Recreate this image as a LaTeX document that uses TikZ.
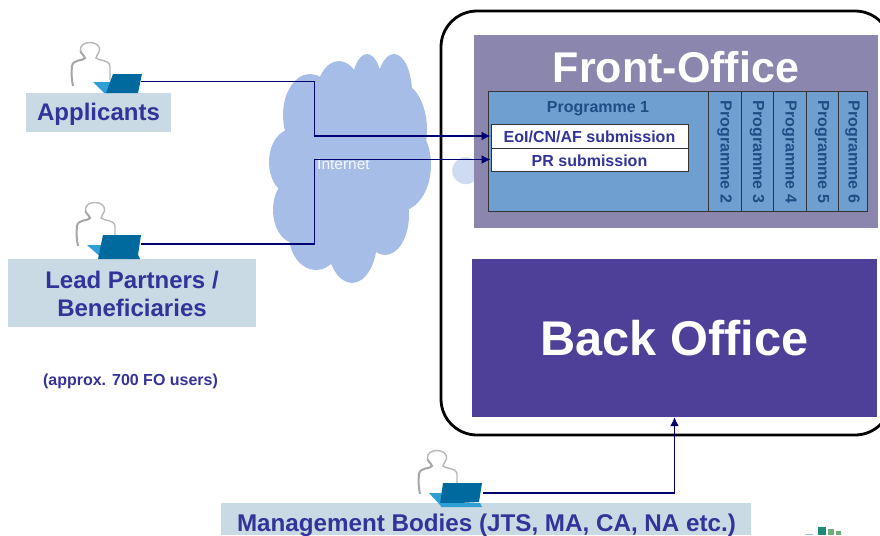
\documentclass[tikz,border=0pt]{standalone}
\usepackage{fontspec}
\setmainfont{Liberation Sans}
\usetikzlibrary{arrows.meta}
\definecolor{lbl}{HTML}{CADAE4}
\definecolor{txt}{HTML}{333399}
\definecolor{prog}{HTML}{1F4E86}
\definecolor{fo}{HTML}{8A86AE}
\definecolor{bo}{HTML}{4E3F98}
\definecolor{pfill}{HTML}{6E9FD0}
\definecolor{cloudc}{HTML}{A6BDE8}
\definecolor{navyl}{HTML}{000070}
\definecolor{lapd}{HTML}{006A9E}
\definecolor{lapl}{HTML}{2F9FD6}
\definecolor{logoa}{HTML}{1F8A78}
\definecolor{logob}{HTML}{6FAE78}
\definecolor{logoc}{HTML}{8FC6D8}
\tikzset{
  lblbox/.style={fill=lbl,inner sep=0pt},
  lbltxt/.style={inner sep=0pt,text=txt,font=\fontsize{24}{28}\selectfont\bfseries,align=center},
  progbox/.style={draw=black!80,line width=1pt,fill=pfill,inner sep=0pt},
  progtxt/.style={text=prog,font=\fontsize{16}{20}\selectfont\bfseries,inner sep=0pt},
  subbox/.style={draw=black!80,line width=1pt,fill=white,inner sep=0pt,minimum width=197pt},
  subtxt/.style={text=txt,font=\fontsize{16}{18}\selectfont\bfseries,inner sep=0pt},
  conn/.style={draw=navyl,line width=1.4pt},
  arr/.style={conn,-{Latex[length=9pt,width=9pt]}},
  personfig/.pic={
    \path[fill=white] (-9,-22) .. controls (-9,-26) and (9,-26) .. (9.5,-14) .. controls (9,-11) and (6,-10) .. (6,-7) .. controls (10,-4) and (19,-5) .. (20,1) -- (20,22) -- (-18,22) -- (-18,0) .. controls (-18,-5) and (-9,-4) .. (-5,-7) .. controls (-6,-10) and (-10,-12) .. (-9,-22);
    \draw[black!28,line width=1.4pt] (-9.5,-14) .. controls (-10.5,-20) and (-5,-22.5) .. (0,-22.5) .. controls (6,-22.5) and (10.5,-19) .. (9.5,-14) .. controls (9,-11) and (6,-10) .. (6,-7) .. controls (8,-4) and (19,-6) .. (20,1) -- (20,15);
    \draw[black!35,line width=2pt] (-9.5,-14) .. controls (-8.5,-10) and (-5,-10) .. (-5,-7) .. controls (-6,-4) and (-17,-6) .. (-18,1) .. controls (-19,8) and (-18,16) .. (-17,21);
  }
}
\begin{document}
\begin{tikzpicture}[x=1pt,y=-1pt]
\useasboundingbox (0,0) rectangle (880,535);
\clip (0,0) rectangle (880,535);
% cloud
\fill[cloudc]
  (350,165) ellipse [x radius=62,y radius=92]
  (310,115) ellipse [x radius=27,y radius=41]
  (339,101) ellipse [x radius=24,y radius=40]
  (367,92) ellipse [x radius=16,y radius=38]
  (394,93) ellipse [x radius=18,y radius=39]
  (400,130) ellipse [x radius=27,y radius=47]
  (400,165) ellipse [x radius=31,y radius=46]
  (385,215) ellipse [x radius=24,y radius=40]
  (352,240) ellipse [x radius=25,y radius=43]
  (316,235) ellipse [x radius=27,y radius=35]
  (295,210) ellipse [x radius=22,y radius=33]
  (292,162) ellipse [x radius=23,y radius=33];
\fill[cloudc!55!white] (465.7,170.7) circle [radius=13.5];
\node[text=white!90!cloudc,font=\fontsize{15.5}{18}\selectfont,anchor=west,inner sep=0pt] (inet) at (317,164) {Internet};
% outer frame
\node[draw=black,line width=2.8pt,rounded corners=36pt,minimum width=450pt,minimum height=424pt,inner sep=0pt] (frame) at (666,223) {};
% front office
\node[fill=fo,minimum width=404pt,minimum height=193pt,inner sep=0pt] (fo) at (676,131.5) {};
\node[text=white,font=\fontsize{43}{48}\selectfont\bfseries,inner sep=0pt] (fot) at (676,67.3) {Front-Office};
% back office
\node[fill=bo,minimum width=405pt,minimum height=158pt,inner sep=0pt,text=white,font=\fontsize{48.7}{56}\selectfont\bfseries] (bo) at (674.5,338) {Back Office};
% programmes
\node[progbox,minimum width=220pt,minimum height=120pt] (p1) at (598,151) {};
\node[progtxt] (p1t) at (598,108.5) {Programme 1};
\foreach \n/\cx/\w in {2/724.5/33,3/757/32,4/789.5/33,5/822/32,6/852.5/29}{
  \node[progbox,minimum width=\w pt,minimum height=120pt] (p\n) at (\cx,151) {};
  \node[progtxt,rotate=-90] (p\n t) at (\cx,152) {Programme \n};
}
\node[subbox,minimum height=24pt] (eoi) at (589.5,136) {};
\node[subtxt] (eoit) at (589.5,137) {EoI/CN/AF submission};
\node[subbox,minimum height=23pt] (pr) at (589.5,159.5) {};
\node[subtxt] (prt) at (589.5,160.5) {PR submission};
% labels
\node[lblbox,minimum width=145pt,minimum height=39pt] (appl) at (98.5,112.5) {};
\node[lbltxt] (applt) at (98.5,114.5) {Applicants};
\node[lblbox,minimum width=248pt,minimum height=68pt] (lead) at (132,293) {};
\node[lbltxt] (leadt) at (132,294) {Lead Partners /\\Beneficiaries};
\fill[lbl] (221,503) rectangle (751,535);
\node[text=txt,font=\fontsize{24.2}{28}\selectfont\bfseries,inner sep=0pt] (mgmt) at (486.5,525) {Management Bodies (JTS, MA, CA, NA etc.)};
\node[text=txt,font=\fontsize{16}{18}\selectfont\bfseries,inner sep=0pt] (fou) at (130.5,381) {(approx. 700 FO users)};
% persons
\pic at (90,65) {personfig};
\pic at (95,225) {personfig};
\pic at (437,473) {personfig};
% laptops
\fill[lapl] (93,82) -- (112,82) -- (110,93) -- (104,93) -- cycle;
\fill[lapd] (113,74) -- (142,74) -- (138,93) -- (106,93) -- cycle;
\fill[lapl] (87,245) -- (105,245) -- (103,259) -- cycle;
\fill[lapd] (103,235) -- (141,235) -- (138,255) -- (140,259) -- (98,259) -- cycle;
\fill[lapl] (429,493) -- (445,493) -- (441,506) -- cycle;
\fill[lapd] (443,483) -- (482,483) -- (479,502) -- (440,504) -- cycle;
\fill[lapl] (440,503) -- (480,503) -- (482,507) -- (441,507) -- cycle;
% logo fragment
\fill[logoc] (805,534) rectangle (813,535);
\fill[logoa] (818,527) rectangle (826,535);
\fill[logob] (828,529) rectangle (834,535);
\fill[logob] (836,531) rectangle (841,535);
% connectors
\coordinate (la) at (141,81.5);
\coordinate (lb) at (141,244);
\coordinate (lc) at (483,493);
\coordinate (ja) at (314.5,81.5);
\coordinate (jb) at (314.5,244);
\draw[arr] (la) -- (ja) |- (eoi.west);
\draw[arr] (lb) -- (jb) |- (pr.west);
\draw[arr] (lc) -| (bo.south);
\end{tikzpicture}
\end{document}
